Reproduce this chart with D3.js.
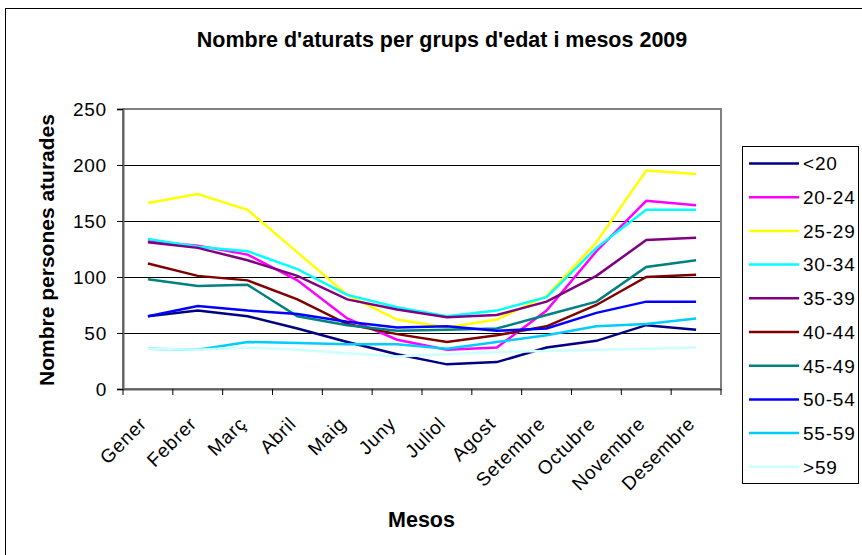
<!DOCTYPE html>
<html>
<head>
<meta charset="utf-8">
<script src="https://cdn.jsdelivr.net/npm/d3@7"></script>
<style>
  html, body { margin: 0; padding: 0; background: #fff; }
  svg { display: block; font-family: "Liberation Sans", Arial, sans-serif; }
</style>
</head>
<body>
<svg id="chart" width="862" height="555"></svg>
<script>
// ---- data ----
const months = ["Gener","Febrer","Març","Abril","Maig","Juny","Juliol","Agost","Setembre","Octubre","Novembre","Desembre"];
const seriesNames = ["<20","20-24","25-29","30-34","35-39","40-44","45-49","50-54","55-59",">59"];
const seriesColors = ["#000080","#FF00FF","#FFFF00","#00FFFF","#800080","#800000","#008080","#0000FF","#00CCFF","#CCFFFF"];
const v_lt20  = [65, 70, 65, 54, 42, 31, 22, 24, 37, 43, 57, 53];
const v_20_24 = [132, 128, 120, 97, 63, 44, 35, 37, 70, 123, 168, 164];
const v_25_29 = [166, 174, 160, 122, 84, 62, 55, 62, 83, 131, 195, 192];
const v_30_34 = [134, 127, 123, 107, 84, 73, 65, 70, 82, 126, 160, 160];
const v_35_39 = [131, 126, 115, 101, 80, 71, 64, 66, 78, 101, 133, 135];
const v_40_44 = [112, 101, 97, 80, 58, 49, 42, 48, 56, 75, 100, 102];
const v_45_49 = [98, 92, 93, 65, 57, 52, 53, 54, 66, 78, 109, 115];
const v_50_54 = [65, 74, 70, 67, 60, 55, 56, 52, 54, 68, 78, 78];
const v_55_59 = [36, 35, 42, 41, 40, 40, 36, 42, 48, 56, 58, 63];
const v_gt59  = [36, 35, 37, 35, 32, 29, 31, 33, 34, 35, 36, 37];
const yTicks = [0, 50, 100, 150, 200, 250];
const titleText = "Nombre d'aturats per grups d'edat i mesos 2009";
const xTitle = "Mesos";
const yTitle = "Nombre persones aturades";

const seriesValues = [v_lt20, v_20_24, v_25_29, v_30_34, v_35_39, v_40_44, v_45_49, v_50_54, v_55_59, v_gt59];
const series = seriesNames.map((n, i) => ({ name: n, color: seriesColors[i], values: seriesValues[i] }));

// ---- layout ----
const svg = d3.select("#chart");
const plot = { left: 123, right: 721, top: 109, bottom: 389 };
const regFont = "19px";
const regSpacing = "0.8px";

const x = d3.scaleBand().domain(months).range([plot.left, plot.right]);
const y = d3.scaleLinear().domain([0, 250]).range([plot.bottom, plot.top]);
const cx = m => x(m) + x.bandwidth() / 2;

// outer chart border
svg.append("rect")
  .attr("x", 5.5).attr("y", 8.5).attr("width", 900).attr("height", 600)
  .attr("fill", "#fff").attr("stroke", "#000").attr("stroke-width", 1);

// title
svg.append("text")
  .attr("x", 442).attr("y", 47)
  .attr("text-anchor", "middle")
  .style("font-size", "21.5px").style("font-weight", "bold")
  .text(titleText);

// gridlines
svg.append("g").selectAll("line")
  .data(yTicks.filter(t => t > 0 && t < 250))
  .join("line")
  .attr("x1", plot.left).attr("x2", plot.right)
  .attr("y1", d => Math.round(y(d)) + 0.5).attr("y2", d => Math.round(y(d)) + 0.5)
  .attr("stroke", "#000").attr("stroke-width", 1);

// plot border
svg.append("rect")
  .attr("x", plot.left).attr("y", plot.top)
  .attr("width", plot.right - plot.left).attr("height", plot.bottom - plot.top)
  .attr("fill", "none").attr("stroke", "#808080").attr("stroke-width", 2);

// y axis
const yAxis = svg.append("g")
  .attr("transform", `translate(${plot.left},0)`)
  .call(d3.axisLeft(y).tickValues(yTicks).tickSize(6).tickPadding(10));
yAxis.select(".domain").attr("stroke", "#606060").attr("stroke-width", 2);
yAxis.selectAll(".tick line").attr("stroke", "#000");
yAxis.selectAll(".tick text")
  .style("font-size", regFont).style("letter-spacing", regSpacing)
  .style("font-family", "'Liberation Sans', Arial, sans-serif")
  .attr("fill", "#000");

// x axis (ticks between categories)
const xAxis = svg.append("g")
  .attr("transform", `translate(0,${plot.bottom})`)
  .call(d3.axisBottom(x).tickSize(0).tickFormat(""));
xAxis.select(".domain").attr("stroke", "#606060").attr("stroke-width", 2);
svg.append("g").selectAll("line")
  .data(months.concat(["__end"]))
  .join("line")
  .attr("x1", d => d === "__end" ? plot.right : x(d))
  .attr("x2", d => d === "__end" ? plot.right : x(d))
  .attr("y1", plot.bottom).attr("y2", plot.bottom + 6)
  .attr("stroke", "#000").attr("stroke-width", 1);

// x labels rotated
svg.append("g").selectAll("text")
  .data(months)
  .join("text")
  .attr("transform", d => `translate(${cx(d)},${plot.bottom + 36}) rotate(-45)`)
  .attr("text-anchor", "end")
  .style("font-size", regFont).style("letter-spacing", regSpacing)
  .text(d => d);

// axis titles
svg.append("text")
  .attr("x", 421.5).attr("y", 527)
  .attr("text-anchor", "middle")
  .style("font-size", "21.5px").style("font-weight", "bold")
  .text(xTitle);

svg.append("text")
  .attr("transform", `translate(53.5,250) rotate(-90)`)
  .attr("text-anchor", "middle")
  .style("font-size", "21px").style("font-weight", "bold")
  .text(yTitle);

// lines
const line = d3.line().x((d, i) => cx(months[i])).y(d => y(d));
svg.append("g").selectAll("path")
  .data(series)
  .join("path")
  .attr("d", d => line(d.values))
  .attr("fill", "none")
  .attr("stroke", d => d.color)
  .attr("stroke-width", 2.5)
  .attr("stroke-linejoin", "miter");

// legend
const legend = svg.append("g");
legend.append("rect")
  .attr("x", 742.5).attr("y", 146.5).attr("width", 116).attr("height", 337)
  .attr("fill", "#fff").attr("stroke", "#000").attr("stroke-width", 1);
const rowY = i => 163.5 + i * 33.7;
const items = legend.selectAll("g.item").data(series).join("g").attr("class", "item");
items.append("line")
  .attr("x1", 749).attr("x2", 799)
  .attr("y1", (d, i) => rowY(i)).attr("y2", (d, i) => rowY(i))
  .attr("stroke", d => d.color).attr("stroke-width", 2.5);
items.append("text")
  .attr("x", 803).attr("y", (d, i) => rowY(i))
  .attr("dy", "0.36em")
  .style("font-size", regFont).style("letter-spacing", regSpacing)
  .text(d => d.name);
</script>
</body>
</html>
